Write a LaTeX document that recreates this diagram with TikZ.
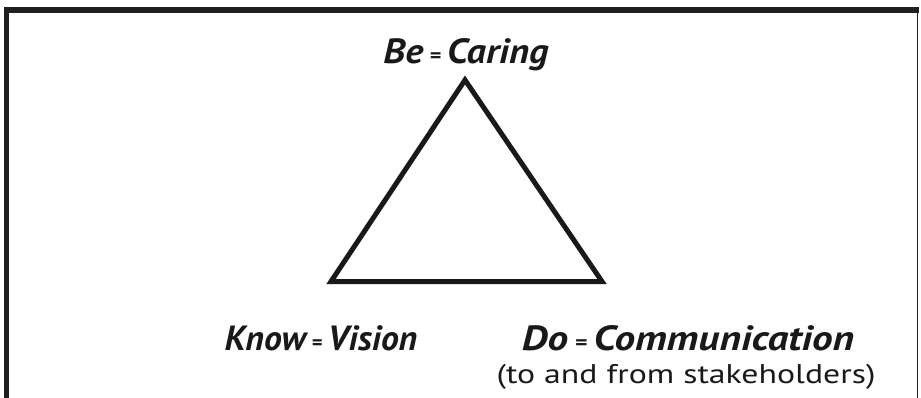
\documentclass[tikz,border=0pt]{standalone}
\usepackage{fontspec}
\setmainfont{PT Sans}
\usetikzlibrary{positioning}
\newcommand{\smalleq}{\,{\fontsize{20}{20}\selectfont\raisebox{1pt}{=}}\,}
\tikzset{
  corelabel/.style={font=\bfseries\itshape\fontsize{35}{38}\selectfont,
    inner sep=0pt,anchor=base,text=black!90},
  notelabel/.style={font=\fontsize{27}{30}\selectfont,
    inner sep=0pt,anchor=base,text=black!90},
  triedge/.style={line width=5pt,line join=miter,draw=black!90},
}

\begin{document}
\begin{tikzpicture}[x=1pt,y=-1pt]
  \useasboundingbox (0,0) rectangle (921,398);
  % frame, open at the bottom
  \draw[line width=6pt,black!88] (4,10) -- (918.5,10);
  \draw[line width=5pt,black!88] (6.5,7) -- (6.5,398);
  \draw[line width=1.5pt,black!88] (917.7,7) -- (917.7,398);

  \coordinate (apex) at (465,80);
  \coordinate (lft) at (331,281.5);
  \coordinate (rgt) at (602,281.5);
  \draw[triedge] (apex) -- (lft) -- (rgt) -- cycle;

  \node[corelabel,xscale=1.1] (be) at (466,64) {Be\smalleq Caring};
  \node[corelabel,xscale=1.02] (know) at (321,350) {Know\smalleq Vision};
  \node[corelabel,xscale=1.18] (do) at (688,350) {Do\smalleq Communication};
  \node[notelabel,xscale=1.25] (stake) at (686,383) {(to and from stakeholders)};
\end{tikzpicture}
\end{document}
